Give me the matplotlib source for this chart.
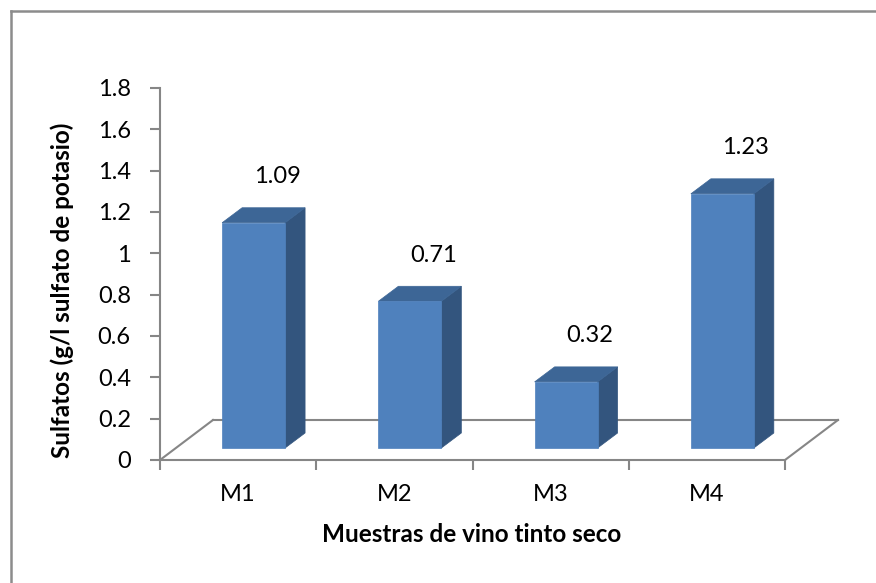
import matplotlib
import matplotlib.pyplot as plt
from matplotlib.patches import Polygon
from matplotlib.lines import Line2D

matplotlib.use('Agg')

categories = ['M1', 'M2', 'M3', 'M4']
values = [1.09, 0.71, 0.32, 1.23]
value_labels = ['1.09', '0.71', '0.32', '1.23']
y_ticks = [0, 0.2, 0.4, 0.6, 0.8, 1, 1.2, 1.4, 1.6, 1.8]
y_tick_labels = ['0', '0.2', '0.4', '0.6', '0.8', '1', '1.2', '1.4', '1.6', '1.8']

FONT = 'Lato'
FS = 17
FS_TITLE = 17.5
GRAY = '#868686'
FRONT = '#4f81bd'
SIDE = '#33557e'
TOP = '#3d6696'

W, H = 876, 583
fig = plt.figure(figsize=(W / 100, H / 100), dpi=100)
ax = fig.add_axes([160 / W, (H - 460) / H, 625 / W, 372 / H])
ax.set_xlim(0.5, 4.5)
ax.set_ylim(0, 1.8)

# pseudo 3d geometry (in data units)
floor_dx, floor_dy = 0.339, 0.1935
bar_off_x, bar_off_y = 0.099, 0.058
bar_w = 0.403
depth_dx, depth_dy = 0.128, 0.0726

# floor
floor_kw = dict(color=GRAY, lw=1.5, clip_on=False, zorder=1)
ax.plot([0.5 + floor_dx, 4.5 + floor_dx], [floor_dy, floor_dy], **floor_kw)
ax.plot([0.5, 0.5 + floor_dx], [0, floor_dy], **floor_kw)
ax.plot([4.5, 4.5 + floor_dx], [0, floor_dy], **floor_kw)

for i, v in enumerate(values):
    xc = i + 1 + bar_off_x
    x0, x1 = xc - bar_w / 2, xc + bar_w / 2
    y0, y1 = bar_off_y, bar_off_y + v
    front = [(x0, y0), (x1, y0), (x1, y1), (x0, y1)]
    side = [(x1, y0), (x1 + depth_dx, y0 + depth_dy), (x1 + depth_dx, y1 + depth_dy), (x1, y1)]
    top = [(x0, y1), (x1, y1), (x1 + depth_dx, y1 + depth_dy), (x0 + depth_dx, y1 + depth_dy)]
    for pts, c in [(side, SIDE), (top, TOP), (front, FRONT)]:
        ax.add_patch(Polygon(pts, closed=True, facecolor=c, edgecolor=c, lw=0.5,
                             clip_on=False, zorder=3))
    ax.text(i + 1 + 0.25, v + 0.28, value_labels[i], ha='center', va='center',
            fontsize=FS, family=FONT, color='black')

for s in ['top', 'right']:
    ax.spines[s].set_visible(False)
for s in ['left', 'bottom']:
    ax.spines[s].set_color(GRAY)
    ax.spines[s].set_linewidth(1.5)

ax.set_yticks(y_ticks)
ax.set_yticklabels(y_tick_labels, fontsize=FS, family=FONT)
ax.tick_params(axis='y', length=7, width=1.5, color=GRAY, pad=14)

ax.set_xticks([1, 2, 3, 4])
ax.set_xticklabels(categories, fontsize=FS, family=FONT)
ax.set_xticks([0.5, 1.5, 2.5, 3.5, 4.5], minor=True)
ax.tick_params(axis='x', which='major', length=0, pad=17)
ax.tick_params(axis='x', which='minor', length=7, width=1.5, color=GRAY)

fig.text(472 / W, 1 - 534 / H, 'Muestras de vino tinto seco', ha='center', va='center',
         fontsize=FS_TITLE, fontweight='bold', family=FONT)
fig.text(62 / W, 1 - 290 / H, 'Sulfatos (g/l sulfato de potasio)', ha='center', va='center',
         rotation=90, fontsize=FS_TITLE, fontweight='bold', family=FONT)

# chart area border (top and left visible)
fig.add_artist(Line2D([11 / W, 1], [1 - 11 / H, 1 - 11 / H], color='#8c8c8c', lw=1.8))
fig.add_artist(Line2D([11 / W, 11 / W], [0, 1 - 11 / H], color='#8c8c8c', lw=1.8))

plt.savefig('out.png', dpi=100)
